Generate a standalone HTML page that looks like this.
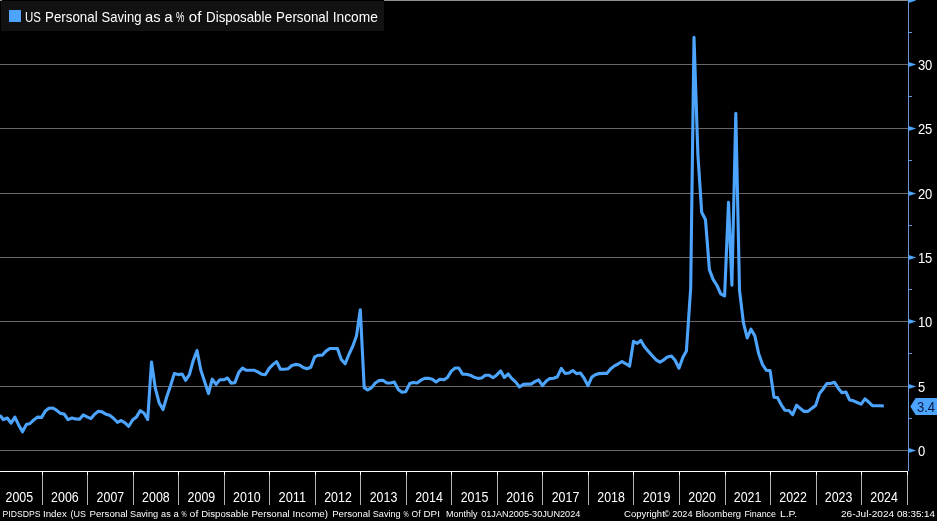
<!DOCTYPE html>
<html><head><meta charset="utf-8"><title>US Personal Saving as a % of Disposable Personal Income</title>
<style>
html,body{margin:0;padding:0;background:#000;}
body{width:937px;height:521px;overflow:hidden;}
svg{display:block;font-family:"Liberation Sans",sans-serif;}
</style></head><body>
<svg width="937" height="521" viewBox="0 0 937 521">
<rect x="0" y="0" width="937" height="521" fill="#000"/>

<g fill="#686868" shape-rendering="crispEdges">
<rect x="0" y="450" width="908" height="1"/>
<rect x="0" y="386" width="908" height="1"/>
<rect x="0" y="321" width="908" height="1"/>
<rect x="0" y="257" width="908" height="1"/>
<rect x="0" y="193" width="908" height="1"/>
<rect x="0" y="128" width="908" height="1"/>
<rect x="0" y="64" width="908" height="1"/>
<rect x="0" y="0" width="908" height="1" fill="#8e8e8e"/>
</g>
<rect x="2" y="0" width="382" height="1" fill="#000"/>
<rect x="1" y="1" width="383" height="30" rx="1.5" fill="#121212"/>
<rect x="0" y="0" width="2" height="1" fill="#9a9a9a"/>
<rect x="9" y="10" width="12" height="12" fill="#4ca4fd"/>
<g font-size="14.5" fill="#ffffff">
<text x="24.90" y="21.8" textLength="15.90" lengthAdjust="spacingAndGlyphs">US</text>
<text x="45.10" y="21.8" textLength="52.50" lengthAdjust="spacingAndGlyphs">Personal</text>
<text x="101.60" y="21.8" textLength="39.90" lengthAdjust="spacingAndGlyphs">Saving</text>
<text x="145.10" y="21.8" textLength="15.60" lengthAdjust="spacingAndGlyphs">as</text>
<text x="164.30" y="21.8" textLength="8.40" lengthAdjust="spacingAndGlyphs">a</text>
<text x="176.10" y="21.8" textLength="8.40" lengthAdjust="spacingAndGlyphs">%</text>
<text x="188.80" y="21.8" textLength="12.60" lengthAdjust="spacingAndGlyphs">of</text>
<text x="206.10" y="21.8" textLength="65.70" lengthAdjust="spacingAndGlyphs">Disposable</text>
<text x="276.10" y="21.8" textLength="52.60" lengthAdjust="spacingAndGlyphs">Personal</text>
<text x="332.70" y="21.8" textLength="45.20" lengthAdjust="spacingAndGlyphs">Income</text>
</g>
<polyline points="-0.1,415.1 3.4,419.7 7.3,418.0 11.0,423.2 14.9,417.1 18.6,424.9 22.5,431.8 26.4,424.4 30.1,423.5 34.0,419.7 37.7,417.1 41.6,417.4 45.4,410.9 48.9,408.2 52.8,408.0 56.5,410.2 60.4,413.4 64.1,414.0 68.0,419.7 71.9,418.0 75.6,418.9 79.5,419.2 83.2,414.9 87.1,416.9 90.9,418.6 94.4,414.4 98.3,411.3 102.0,411.9 105.9,414.2 109.6,415.3 113.5,418.2 117.4,422.3 121.1,420.5 125.0,422.8 128.7,426.3 132.6,420.0 136.4,417.1 140.1,410.7 143.9,413.0 147.7,419.4 151.5,362.0 155.3,388.2 159.1,402.7 163.0,409.6 166.7,397.0 170.6,385.5 174.3,373.6 178.2,374.6 182.1,374.0 185.6,380.3 189.4,374.6 193.2,360.7 197.0,350.5 200.8,370.0 204.6,381.5 208.5,393.6 212.2,379.2 216.1,384.4 219.8,379.8 223.7,379.8 227.6,378.0 231.1,383.2 234.9,382.6 238.7,372.6 242.5,368.0 246.3,370.3 250.1,370.2 254.0,370.2 257.7,371.9 261.6,374.2 265.3,374.8 269.2,368.4 273.1,364.4 276.6,361.6 280.4,369.3 284.2,369.3 288.0,368.8 291.8,365.5 295.6,364.4 299.5,365.0 303.2,367.6 307.1,368.8 310.8,367.3 314.7,356.9 318.6,355.2 322.2,355.2 326.0,351.1 329.8,348.5 333.7,348.5 337.4,348.6 341.3,359.5 345.1,363.8 348.9,354.5 352.7,346.4 356.5,335.8 360.3,309.8 364.2,387.6 367.7,390.0 371.6,387.6 375.3,383.0 379.2,380.5 382.9,380.2 386.8,383.0 390.6,383.0 394.4,382.1 398.2,389.4 402.0,392.3 405.8,391.7 409.7,383.6 413.2,382.5 417.1,383.0 420.8,380.2 424.7,378.4 428.4,378.2 432.3,379.2 436.1,382.0 439.9,379.3 443.7,379.8 447.5,377.5 451.3,371.1 455.2,368.0 458.7,368.0 462.6,374.2 466.3,374.2 470.2,375.2 473.9,377.1 477.8,378.4 481.6,378.0 485.4,375.2 489.2,375.2 493.0,377.7 496.8,374.9 500.7,370.9 504.3,377.5 508.2,374.0 511.9,378.6 515.8,382.1 519.5,387.0 523.4,384.4 527.3,384.1 531.0,384.1 534.9,381.6 538.6,379.8 542.5,385.6 546.3,381.1 549.8,378.6 553.7,378.2 557.4,376.7 561.3,368.4 565.0,373.4 568.9,373.0 572.8,370.5 576.5,373.6 580.4,373.0 584.1,378.2 588.0,385.7 591.8,377.1 595.3,374.8 599.2,373.6 602.9,373.4 606.8,373.4 610.5,369.0 614.4,365.9 618.3,363.8 622.0,361.5 625.9,363.8 629.6,366.1 633.5,341.3 637.3,343.4 640.8,340.5 644.7,347.1 648.4,351.4 652.3,355.7 656.0,359.8 659.9,362.1 663.8,359.8 667.5,356.9 671.4,356.0 675.1,360.3 679.0,368.2 682.8,357.5 686.4,351.1 690.7,288.0 694.0,37.3 697.9,154.6 701.7,212.3 705.5,219.8 709.4,269.6 713.1,279.4 717.0,285.5 720.7,293.8 724.6,296.0 728.5,202.3 731.9,285.2 735.8,113.2 739.5,290.0 743.4,322.6 747.2,337.9 751.0,329.2 754.9,336.1 758.6,353.4 762.5,364.5 766.2,370.2 770.1,370.6 774.0,397.3 777.4,397.6 781.3,404.8 785.0,410.3 788.9,410.5 792.7,414.6 796.5,405.3 800.4,408.6 804.1,411.4 808.0,411.4 811.7,408.4 815.6,405.6 819.5,393.4 822.9,389.3 826.8,383.5 830.5,383.5 834.4,382.2 838.2,388.2 842.0,392.7 845.9,392.0 849.6,399.9 853.5,400.8 857.2,402.5 861.1,404.2 865.0,398.8 868.6,402.0 872.4,405.7 876.2,405.7 880.0,405.7 883.8,406.0" fill="none" stroke="#4ca4fd" stroke-width="3.1" stroke-linejoin="round" stroke-linecap="butt"/>
<g fill="#4ca4fd">
<rect x="908" y="0" width="1" height="471" fill="#6c97cc" shape-rendering="crispEdges"/>
<polygon points="908.5,447.9 916.2,450.5 908.5,453.1"/>
<polygon points="908.5,383.9 916.2,386.5 908.5,389.1"/>
<polygon points="908.5,318.9 916.2,321.5 908.5,324.1"/>
<polygon points="908.5,254.9 916.2,257.5 908.5,260.1"/>
<polygon points="908.5,190.9 916.2,193.5 908.5,196.1"/>
<polygon points="908.5,125.9 916.2,128.5 908.5,131.1"/>
<polygon points="908.5,61.9 916.2,64.5 908.5,67.1"/>
<polygon points="908.5,-2.1 916.2,0.5 908.5,3.1"/>
<rect x="909" y="418" width="3" height="1" fill="#5f97d8" shape-rendering="crispEdges"/>
<rect x="909" y="353" width="3" height="1" fill="#5f97d8" shape-rendering="crispEdges"/>
<rect x="909" y="289" width="3" height="1" fill="#5f97d8" shape-rendering="crispEdges"/>
<rect x="909" y="225" width="3" height="1" fill="#5f97d8" shape-rendering="crispEdges"/>
<rect x="909" y="160" width="3" height="1" fill="#5f97d8" shape-rendering="crispEdges"/>
<rect x="909" y="96" width="3" height="1" fill="#5f97d8" shape-rendering="crispEdges"/>
<rect x="909" y="32" width="3" height="1" fill="#5f97d8" shape-rendering="crispEdges"/>
</g>
<g font-size="14.2" fill="#ffffff">
<text x="917.9" y="455.7" textLength="7.23" lengthAdjust="spacingAndGlyphs">0</text>
<text x="917.9" y="391.7" textLength="7.23" lengthAdjust="spacingAndGlyphs">5</text>
<text x="917.9" y="326.7" textLength="14.46" lengthAdjust="spacingAndGlyphs">10</text>
<text x="917.9" y="262.7" textLength="14.46" lengthAdjust="spacingAndGlyphs">15</text>
<text x="917.9" y="198.7" textLength="14.46" lengthAdjust="spacingAndGlyphs">20</text>
<text x="917.9" y="133.7" textLength="14.46" lengthAdjust="spacingAndGlyphs">25</text>
<text x="917.9" y="69.7" textLength="14.46" lengthAdjust="spacingAndGlyphs">30</text>
</g>
<polygon points="910.3,406.4 915.6,398 937,398 937,415 915.6,415" fill="#4ca4fd"/>
<text x="917" y="411.5" font-size="14.2" fill="#0a1a45" textLength="18.1" lengthAdjust="spacingAndGlyphs">3.4</text>
<rect x="0" y="471" width="908" height="1" fill="#fff" shape-rendering="crispEdges"/>
<g fill="#b4b4b4" shape-rendering="crispEdges">
<rect x="42" y="472" width="1" height="3" fill="#fff"/><rect x="42" y="475" width="1" height="30"/>
<rect x="87" y="472" width="1" height="3" fill="#fff"/><rect x="87" y="475" width="1" height="30"/>
<rect x="133" y="472" width="1" height="3" fill="#fff"/><rect x="133" y="475" width="1" height="30"/>
<rect x="178" y="472" width="1" height="3" fill="#fff"/><rect x="178" y="475" width="1" height="30"/>
<rect x="224" y="472" width="1" height="3" fill="#fff"/><rect x="224" y="475" width="1" height="30"/>
<rect x="269" y="472" width="1" height="3" fill="#fff"/><rect x="269" y="475" width="1" height="30"/>
<rect x="315" y="472" width="1" height="3" fill="#fff"/><rect x="315" y="475" width="1" height="30"/>
<rect x="360" y="472" width="1" height="3" fill="#fff"/><rect x="360" y="475" width="1" height="30"/>
<rect x="406" y="472" width="1" height="3" fill="#fff"/><rect x="406" y="475" width="1" height="30"/>
<rect x="451" y="472" width="1" height="3" fill="#fff"/><rect x="451" y="475" width="1" height="30"/>
<rect x="497" y="472" width="1" height="3" fill="#fff"/><rect x="497" y="475" width="1" height="30"/>
<rect x="542" y="472" width="1" height="3" fill="#fff"/><rect x="542" y="475" width="1" height="30"/>
<rect x="588" y="472" width="1" height="3" fill="#fff"/><rect x="588" y="475" width="1" height="30"/>
<rect x="633" y="472" width="1" height="3" fill="#fff"/><rect x="633" y="475" width="1" height="30"/>
<rect x="679" y="472" width="1" height="3" fill="#fff"/><rect x="679" y="475" width="1" height="30"/>
<rect x="725" y="472" width="1" height="3" fill="#fff"/><rect x="725" y="475" width="1" height="30"/>
<rect x="770" y="472" width="1" height="3" fill="#fff"/><rect x="770" y="475" width="1" height="30"/>
<rect x="816" y="472" width="1" height="3" fill="#fff"/><rect x="816" y="475" width="1" height="30"/>
<rect x="861" y="472" width="1" height="3" fill="#fff"/><rect x="861" y="475" width="1" height="30"/>
<rect x="907" y="472" width="1" height="3" fill="#fff"/><rect x="907" y="475" width="1" height="30"/>
</g>
<g font-size="14.5" fill="#ffffff" text-anchor="middle">
<text x="19.3" y="501.7" textLength="27.6" lengthAdjust="spacingAndGlyphs">2005</text>
<text x="64.9" y="501.7" textLength="27.6" lengthAdjust="spacingAndGlyphs">2006</text>
<text x="110.4" y="501.7" textLength="27.6" lengthAdjust="spacingAndGlyphs">2007</text>
<text x="155.9" y="501.7" textLength="27.6" lengthAdjust="spacingAndGlyphs">2008</text>
<text x="201.4" y="501.7" textLength="27.6" lengthAdjust="spacingAndGlyphs">2009</text>
<text x="246.9" y="501.7" textLength="27.6" lengthAdjust="spacingAndGlyphs">2010</text>
<text x="292.4" y="501.7" textLength="27.6" lengthAdjust="spacingAndGlyphs">2011</text>
<text x="338.0" y="501.7" textLength="27.6" lengthAdjust="spacingAndGlyphs">2012</text>
<text x="383.5" y="501.7" textLength="27.6" lengthAdjust="spacingAndGlyphs">2013</text>
<text x="429.0" y="501.7" textLength="27.6" lengthAdjust="spacingAndGlyphs">2014</text>
<text x="474.5" y="501.7" textLength="27.6" lengthAdjust="spacingAndGlyphs">2015</text>
<text x="520.0" y="501.7" textLength="27.6" lengthAdjust="spacingAndGlyphs">2016</text>
<text x="565.5" y="501.7" textLength="27.6" lengthAdjust="spacingAndGlyphs">2017</text>
<text x="611.1" y="501.7" textLength="27.6" lengthAdjust="spacingAndGlyphs">2018</text>
<text x="656.6" y="501.7" textLength="27.6" lengthAdjust="spacingAndGlyphs">2019</text>
<text x="702.1" y="501.7" textLength="27.6" lengthAdjust="spacingAndGlyphs">2020</text>
<text x="747.6" y="501.7" textLength="27.6" lengthAdjust="spacingAndGlyphs">2021</text>
<text x="793.1" y="501.7" textLength="27.6" lengthAdjust="spacingAndGlyphs">2022</text>
<text x="838.6" y="501.7" textLength="27.6" lengthAdjust="spacingAndGlyphs">2023</text>
<text x="884.1" y="501.7" textLength="27.6" lengthAdjust="spacingAndGlyphs">2024</text>
</g>
<g font-size="9.7" fill="#fff">
<text x="2.50" y="517" textLength="37.90" lengthAdjust="spacingAndGlyphs">PIDSDPS</text>
<text x="43.00" y="517" textLength="23.80" lengthAdjust="spacingAndGlyphs">Index</text>
<text x="70.40" y="517" textLength="15.50" lengthAdjust="spacingAndGlyphs">(US</text>
<text x="89.50" y="517" textLength="38.20" lengthAdjust="spacingAndGlyphs">Personal</text>
<text x="130.10" y="517" textLength="28.00" lengthAdjust="spacingAndGlyphs">Saving</text>
<text x="161.10" y="517" textLength="9.60" lengthAdjust="spacingAndGlyphs">as</text>
<text x="173.40" y="517" textLength="5.30" lengthAdjust="spacingAndGlyphs">a</text>
<text x="181.60" y="517" textLength="5.10" lengthAdjust="spacingAndGlyphs">%</text>
<text x="189.60" y="517" textLength="8.70" lengthAdjust="spacingAndGlyphs">of</text>
<text x="201.20" y="517" textLength="47.50" lengthAdjust="spacingAndGlyphs">Disposable</text>
<text x="251.40" y="517" textLength="38.30" lengthAdjust="spacingAndGlyphs">Personal</text>
<text x="292.60" y="517" textLength="35.50" lengthAdjust="spacingAndGlyphs">Income)</text>
<text x="332.20" y="517" textLength="38.00" lengthAdjust="spacingAndGlyphs">Personal</text>
<text x="372.80" y="517" textLength="27.80" lengthAdjust="spacingAndGlyphs">Saving</text>
<text x="403.60" y="517" textLength="5.10" lengthAdjust="spacingAndGlyphs">%</text>
<text x="411.60" y="517" textLength="9.00" lengthAdjust="spacingAndGlyphs">Of</text>
<text x="423.50" y="517" textLength="16.40" lengthAdjust="spacingAndGlyphs">DPI</text>
<text x="446.10" y="517" textLength="31.40" lengthAdjust="spacingAndGlyphs">Monthly</text>
<text x="481.20" y="517" textLength="99.20" lengthAdjust="spacingAndGlyphs">01JAN2005-30JUN2024</text>
<text x="624.00" y="517" textLength="40.80" lengthAdjust="spacingAndGlyphs">Copyright</text>
<text x="664.30" y="517" textLength="5.40" lengthAdjust="spacingAndGlyphs">©</text>
<text x="672.20" y="517" textLength="20.30" lengthAdjust="spacingAndGlyphs">2024</text>
<text x="695.40" y="517" textLength="45.70" lengthAdjust="spacingAndGlyphs">Bloomberg</text>
<text x="744.40" y="517" textLength="31.60" lengthAdjust="spacingAndGlyphs">Finance</text>
<text x="779.90" y="517" textLength="17.20" lengthAdjust="spacingAndGlyphs">L.P.</text>
<text x="841.00" y="517" textLength="53.10" lengthAdjust="spacingAndGlyphs">26-Jul-2024</text>
<text x="896.90" y="517" textLength="38.00" lengthAdjust="spacingAndGlyphs">08:35:14</text>
</g>
</svg></body></html>
